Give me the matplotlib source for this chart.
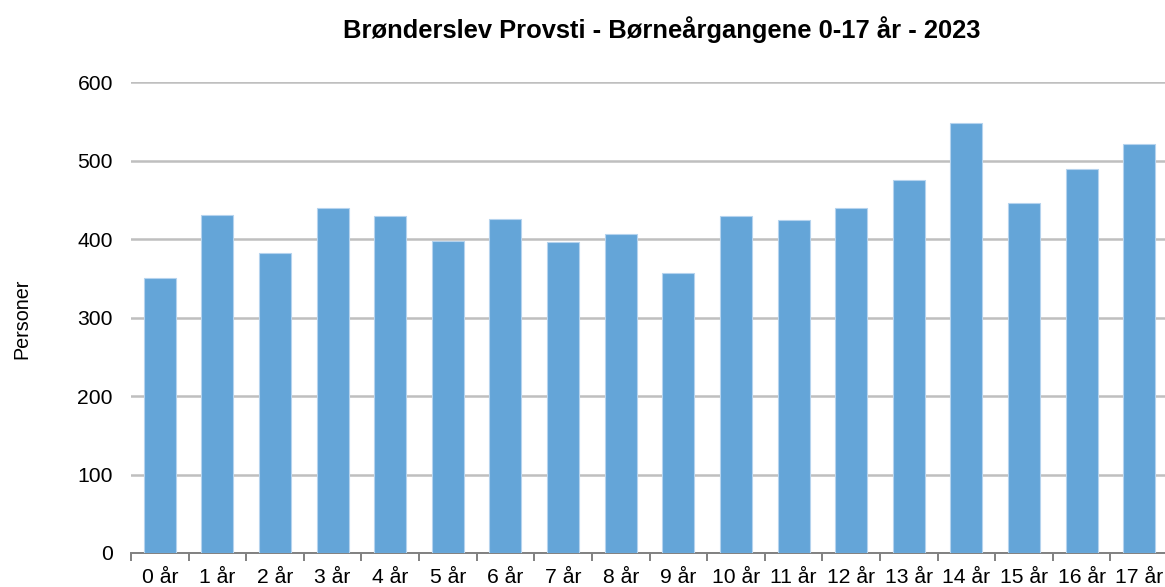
import matplotlib
matplotlib.use('Agg')
import matplotlib.pyplot as plt
import numpy as np

plt.rcParams['font.family'] = ['Liberation Sans', 'DejaVu Sans']

# ── Data ───────────────────────────────────────────────────────────────────
ages = [f'{i} år' for i in range(18)]
persons = [351, 431, 382, 440, 429, 398, 426, 396, 406, 357,
           429, 424, 440, 475, 548, 446, 490, 521]
yticks = [0, 100, 200, 300, 400, 500, 600]

# ── Figure ─────────────────────────────────────────────────────────────────
fig = plt.figure(figsize=(11.65, 5.87), dpi=100)
ax = fig.add_axes([131 / 1165, 34 / 587, 1037 / 1165, 470.7 / 587])

x = np.arange(len(ages))
ax.bar(x, persons, width=0.555, color='#64A5D8',
       edgecolor='#B5D3EE', linewidth=0.8, zorder=3)

ax.set_xlim(-0.5, len(ages) - 0.5)
ax.set_ylim(0, 600)
ax.set_yticks(yticks)
ax.yaxis.grid(True, color='#BFBFBF', linewidth=1.8, zorder=0)

ax.set_xticks(x)
ax.set_xticklabels(ages)
ax.set_xticks(np.arange(len(ages) + 1) - 0.5, minor=True)
ax.tick_params(axis='x', which='major', length=0, pad=11, labelsize=15.2)
ax.tick_params(axis='x', which='minor', length=5.5, width=1.4,
               color='#808080', direction='out')
ax.tick_params(axis='y', length=0, pad=13, labelsize=15.2)

for side in ['top', 'right', 'left']:
    ax.spines[side].set_visible(False)
ax.spines['bottom'].set_color('#808080')
ax.spines['bottom'].set_linewidth(1.4)

fig.text(662 / 1165, 1 - 30 / 587, 'Brønderslev Provsti - Børneårgangene 0-17 år - 2023',
         ha='center', va='center', fontsize=18.4, fontweight='bold')
fig.text(22 / 1165, 1 - 319 / 587, 'Personer', rotation=90,
         ha='center', va='center', fontsize=14.2)

fig.savefig('out.png', dpi=100)
